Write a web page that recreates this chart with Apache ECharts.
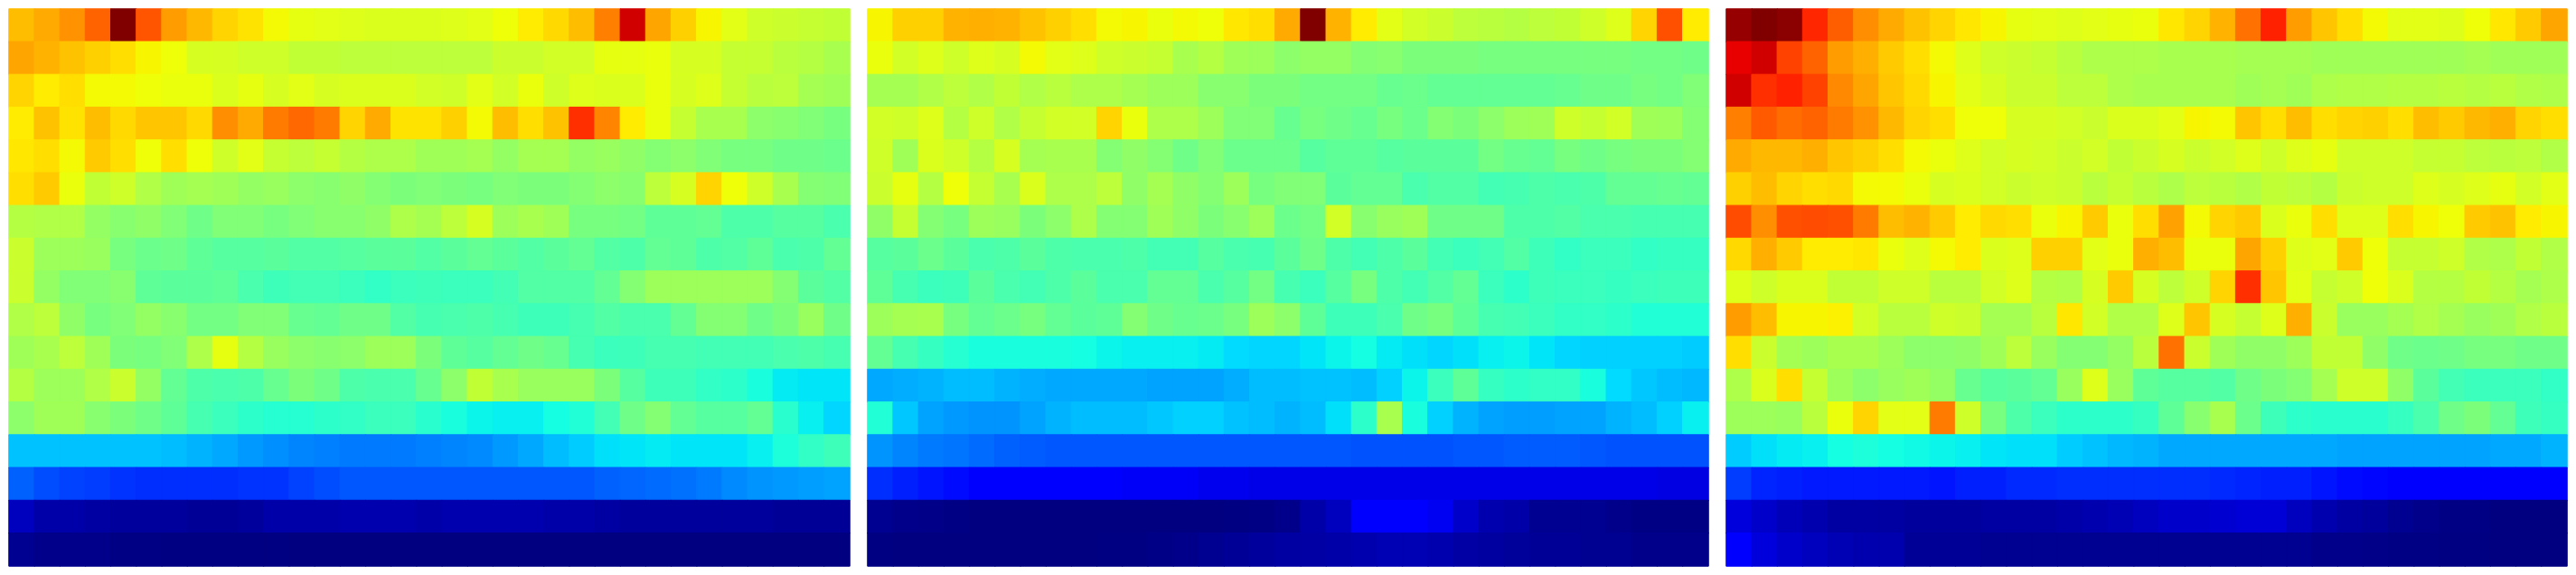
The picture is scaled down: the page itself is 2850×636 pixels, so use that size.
<!DOCTYPE html>
<html>
<head>
<meta charset="utf-8">
<style>html,body{margin:0;padding:0;background:#fff}#c{width:2850px;height:636px}</style>
<script src="https://cdn.jsdelivr.net/npm/echarts@6/dist/echarts.min.js"></script>
</head>
<body>
<div id="c"></div>
<script>
const columns = Array.from({length: 33}, (_, i) => i);
const rows = Array.from({length: 17}, (_, i) => i);

const panelLeft = [
[71,73,75.5,80.5,100,82,74.5,71.5,68.5,67,64.5,63,62.5,62,61.5,61.5,61.5,62,62.5,64,66,68,71,77.5,93,73.5,69,65,62.5,60,59.5,59,58.5],
[73.5,72,70.5,69,67.5,65,64,61,61,60,60,58.5,58.5,58,58,58,58,58,58,59.5,59.5,60.5,60.5,63,63,63.5,61,61,59,59,57.5,57,55.5],
[68.5,66,67.5,64.5,64.5,64,63.5,63.5,61.5,63,61,62.5,61,61.5,61.5,61.5,60.5,60,62.5,60.5,63.5,60,62,61.5,61.5,63.5,61,62,59,57.5,58,55,54.5],
[66,70.5,67,71,68,70,70,68,76,73,78,80,78,68.5,73,67,67,69,64.5,71,67.5,70.5,86,77,66,63.5,59,55.5,55.5,52,51.5,50.5,49.5],
[66.5,67.5,64.5,69.5,67.5,64,67.5,64,60,62.5,59,58,59,57,56,56,54.5,54.5,55,53,55,55,53,53.5,52.5,51,52,50.5,49.5,49.5,48.5,48.5,48],
[67.5,69.5,63.5,58.5,60,56.5,54.5,55,54.5,53,53.5,52,51.5,52.5,51,50,50.5,50,49.5,50.5,50,50,51,52,51.5,58,61,68.5,64,60,55.5,51,50.5],
[57,56.5,56.5,53,51.5,52.5,50.5,48.5,50.5,50.5,49.5,50.5,51.5,51.5,52.5,56,55,58,61,54,55.5,54.5,49.5,49.5,49,46.5,46.5,47,44.5,44.5,45.5,45.5,44],
[59.5,54,54,53.5,49.5,48,48.5,46.5,45.5,45.5,46,45,45,45.5,46,46,45,46,47,46,45,46,47,45,44.5,47,46.5,44.5,45,46.5,44,44.5,47],
[59.5,53,50.5,50.5,51.5,46.5,46,46,46.5,44,42.5,43,43,42,41,42,42.5,42,42,43,45,45,45,47,51,54,54,54,54,54,51,46,45],
[56.5,58,52.5,49.5,50.5,53,51.5,49,49,50.5,50.5,47.5,47,48.5,48.5,45,43.5,44,44.5,43.5,42.5,42.5,43.5,45,44,44,47,51,51,48.5,50,53.5,48.5],
[54.5,55.5,58,54.5,50,49.5,50.5,56,63,57,53.5,52,51.5,52,54,54,50,46.5,45.5,47,48.5,47.5,43.5,42,42.5,43.5,43.5,43,43,43,44,44.5,43.5],
[57,54,54,56.5,59.5,53,47,44.5,44,44.5,47.5,50,48.5,44.5,44,44,47.5,52,58.5,55.5,53.5,53.5,53.5,50,45.5,42.5,42.5,41,40.5,38,35.5,35,35],
[52,54.5,54.5,51.5,50,48.5,46.5,43.5,42,40.5,39.5,39.5,40.5,41,42,42,40,38,36.5,36,36,37.5,39,43,48.5,51,47,45.5,45.5,47,40,36,33.5],
[31.5,31.5,31.5,31.5,31.5,31.5,31,30,29,27.5,26.5,25.5,25,24.5,24.5,24.5,25,25.5,26,27.5,29,31,32.5,34.5,35,35.5,35,35,35,36,38.5,41,42.5],
[22,20,19,18.5,17.5,17,17,17,17,17.5,17.5,19,20,21,21,21,21,21,21,21,21,21,21,22,22.5,23,23.5,24.5,26,27,27.5,28,28.5],
[5.5,3.5,3.5,3,2.5,2.5,2.5,2,2,2.5,3.5,3.5,3.5,4,4,4,3.5,4,4,4,4,3.5,3.5,3,2.5,2.5,2.5,2.5,2.5,2.5,2,2,2],
[1.5,1,1,1,0.5,0.5,0.3,0.3,0.2,0.2,0.2,0.1,0.1,0.1,0.1,0.1,0.1,0.1,0.1,0.1,0,0,0,0,0,0,0,0,0,0,0,0,0]
];

const panelMiddle = [
[65,69,69,72,72.5,72,70.5,69,67.5,64.5,65,63.5,64.5,64,66.5,67.5,73,100,72,66,62.5,60.5,59.5,58,57.5,57,58,58.5,60,62,68.5,82.5,66],
[63.5,60.5,62,60,62,61,64.5,62.5,62,60,59.5,59,55.5,57,54.5,54,52,53,53,51,51.5,50,50,50,49.5,49.5,49.5,49.5,49.5,49.5,49,49,48.5],
[55,55,56.5,58,56.5,58.5,56.5,57.5,56,56,55,54,54,51.5,51.5,50,50,49,49,49,47.5,48,47,47,47,47,47,47.5,48.5,48.5,49.5,49,50.5],
[60.5,60,62,57,60,56.5,59,60.5,60.5,68.5,63.5,56,56,54,50.5,50.5,47.5,49.5,48.5,47.5,49.5,48,51,50,52,54,54.5,60,59,60.5,54.5,54,51],
[60,54.5,61.5,60,57,61,55,55.5,55.5,51,52.5,51,48.5,50.5,48,48,48,45.5,46.5,46.5,45.5,46,46,46,49,47.5,47,49.5,48.5,49.5,50,50,51],
[59.5,63,57,64,59,55.5,61.5,56,56,58,52.5,55,52.5,51,54,49.5,50.5,50.5,46,47,47,44,45,45,43,43.5,44.5,44,44.5,47,47,47.5,47],
[52.5,59,51,49.5,54,53.5,50,52,56,51,51,54.5,52.5,50,51.5,54,48,49,60.5,51.5,53.5,54.5,48.5,48.5,48.5,44.5,44.5,45,44,44,43.5,43.5,43.5],
[45.5,46,48,46,44,44.5,46,44.5,44,44,44.5,43,43,45.5,44,43.5,46,48.5,44.5,43,44.5,46,43,42,43,45,42.5,41,42,42,41,41.5,41.5],
[46.5,43.5,42,42.5,46,44,43,44.5,46,44,44,47,47,44,45.5,49,43.5,42,45.5,49.5,44.5,43,45,47,42,40.5,42.5,42,42,41.5,42,42.5,42.5],
[54,55,55.5,49.5,47,48,49.5,47,46,46.5,51,48.5,47.5,48,49.5,54,52,46.5,42.5,42.5,44,48.5,49.5,46.5,43.5,43,42,41,41,40.5,39,39,39],
[47,43.5,41.5,39.5,38,38,38,38,37.5,36.5,36,36,36,35.5,34,33.5,33.5,35,36.5,37.5,35.5,34.5,33.5,34.5,36,36.5,35,33.5,33,33,33,33,32.5],
[29,29.5,30,31,31,30,29.5,29,29,29,29,28.5,28.5,28.5,29.5,31,31,31.5,31.5,31,33,36.5,42,46.5,41.5,40.5,41,41,38,34,32,31,30.5],
[39,32,28.5,27.5,27,27,28.5,30,31,31,31,32,33,33,31.5,31,30,31,34.5,40.5,55.5,38,33,30,28.5,28,28,28.5,28.5,30,31,33,36],
[27,25.5,24.5,24,23,22,21.5,21,21,21,21,21,21,21,21,21,21,21,21,20.5,20.5,20.5,20.5,21,21,21.5,21.5,21.5,21,20.5,20.5,20.5,20.5],
[17,15.5,14.5,13.5,12.5,12,12,12,12,11,10.5,10.5,10.5,9.5,9.5,9,9,9,9,9,9,9,9,9,9,9,9,9,9,9,9,8.5,8.5],
[1.5,1,0.8,0.5,0,0,0,0,0,0,0,0,0,0,0.3,0.5,1,3.5,5.5,12,12,12,10,6.5,4,3.5,1.5,1.5,1.5,1,0.5,0.5,0.5],
[0.3,0,0,0,0,0,0,0,0,0.3,0.3,0.7,1,1.5,2,2.5,3,3.2,3.6,4,4.5,4.5,4,3.2,2.8,2.4,2,2,1.5,1.5,1,1,1]
];

const panelRight = [
[98,100,99,87,81,76,73,70.5,68.5,66.5,65,63,62.5,62,62.5,63,63.5,66.5,68.5,72,79,87.5,74.5,70,67.5,64.5,62.5,62.5,62,64,66.5,69.5,73.5],
[91,93,84,80.5,74.5,72.5,69.5,67.5,64.5,62,60,59.5,59,57.5,56,56,56,55.5,55.5,55.5,55,55,55,54.5,54.5,54.5,54.5,54.5,54.5,55,54.5,54.5,54.5],
[93,86,87.5,84,76.5,73.5,70,68,65,62.5,61,59.5,59.5,58,58,56,55.5,55.5,55.5,55.5,54.5,55,54.5,56,56.5,56.5,57,57,57.5,57,57.5,56.5,56],
[77.5,81.5,79.5,80.5,78,75.5,71.5,68.5,67.5,64,64,61,61,60.5,59.5,61.5,61.5,62.5,65,64.5,70,67.5,71,67.5,68.5,69,67.5,71,69.5,71.5,72.5,68.5,67.5],
[73,71.5,71.5,72.5,70,69,67.5,64.5,63.5,62,60.5,61,60.5,59.5,60.5,58.5,59.5,61,59.5,60.5,62,60,62,63,60,60,60,59,59,58,57.5,58,56.5],
[69,71,68.5,67.5,68,64.5,64.5,63.5,61,61.5,60.5,59.5,60,59.5,57.5,59,57.5,56,58,57.5,56.5,58.5,58,57,59.5,60,60,62,61,62,63,60.5,62.5],
[83,76,82.5,83,82.5,78,71,72,69.5,66,68,67.5,63.5,65,69.5,63.5,67.5,74,64.5,68.5,69.5,61.5,63.5,67.5,62,62,67.5,65,64,69.5,70.5,66,65],
[68,72.5,69.5,66,66,66.5,63.5,62,64.5,66,61.5,62,69,69,62.5,63.5,72.5,71,63.5,63.5,73.5,69,62,62.5,69.5,64,59,59,60,56.5,56,58.5,56.5],
[62,60,61.5,61.5,58.5,58.5,60,60,57.5,57.5,60.5,62,57,56.5,61,69.5,61,58,60,68.5,86,70,62.5,59,60,64,61.5,57,57,58.5,57,55,56],
[74.5,71,65,65,65.5,60.5,57.5,57.5,60,59.5,55,55,57.5,66.5,60.5,56.5,56.5,62,70,61,59,62,72.5,59.5,53.5,53.5,55,56.5,55,53.5,54.5,56.5,57.5],
[67.5,59.5,55,54,55.5,55.5,54,52,52,52.5,54.5,58,53.5,51,51,53,57.5,79,59.5,54.5,52.5,52.5,54,58.5,58.5,52.5,48.5,48,48.5,49.5,49.5,48.5,48.5],
[56,61.5,67.5,59,54,52,53.5,54.5,53,47.5,45.5,46,47,53.5,62,53.5,46.5,45.5,45.5,45,48.5,50,51,55,60,60,52.5,46,43,42,42,42,41],
[54,54,53.5,57.5,63.5,68.5,62.5,62.5,78,60,49.5,44.5,42,40.5,40.5,40.5,41.5,46.5,51.5,55.5,48,42.5,40.5,40,40,40,41.5,44,48.5,50,47,42.5,41.5],
[32.5,34.5,35.5,36,37.5,38.5,37.5,37,36.5,36,35,34.5,34.5,32.5,31.5,30.5,30,29,29,29,29,29,29,29,28.5,28.5,28.5,28.5,28.5,28.5,29,29,30],
[18.5,16,15.5,15,15,15,15,15,14.5,15.5,15.5,16.5,16.5,17,17,17,17,17,17,16.5,16,15.5,15.5,14.5,13.5,13,12.5,12,12,12,12,12,12],
[8,6.5,5,4,3,3,3,2.5,2.5,2.5,3,3,3,3.5,4,4.5,5.5,6.5,6.5,7,7.5,7.5,5.5,4,3,2.5,1.5,1,0.5,0.5,0,0,0],
[11.5,8,6.5,5.5,4.5,4,4,2,2,2,1.5,1.5,1.5,1.5,1.5,1.5,1.5,1.5,1.5,1.5,1.5,1.5,1.5,1,1,0.8,0.5,0.5,0.3,0.2,0,0,0]
];

const panels = [panelLeft, panelMiddle, panelRight];

// jet colour ramp as piecewise channels
function seg(pts, t) {
  for (let i = 1; i < pts.length; i++) {
    if (t <= pts[i][0]) {
      const a = pts[i - 1], b = pts[i];
      return a[1] + (b[1] - a[1]) * (t - a[0]) / (b[0] - a[0]);
    }
  }
  return pts[pts.length - 1][1];
}
const R = [[0,0],[0.35,0],[0.66,1],[0.89,1],[1,0.5]];
const G = [[0,0],[0.125,0],[0.375,1],[0.64,1],[0.91,0],[1,0]];
const B = [[0,0.5],[0.11,1],[0.34,1],[0.65,0],[1,0]];
function jetColor(t) {
  return 'rgb(' + [R, G, B].map(c => Math.round(seg(c, t) * 255)).join(',') + ')';
}
const jet = [];
for (let i = 0; i <= 200; i++) jet.push(jetColor(i / 200));

const lefts = [10, 960, 1910];
const grid = [], xAxis = [], yAxis = [], series = [];
panels.forEach((panel, p) => {
  grid.push({left: lefts[p], top: 10, width: 930, height: 616});
  xAxis.push({type: 'category', gridIndex: p, data: columns, show: false});
  yAxis.push({type: 'category', gridIndex: p, data: rows, inverse: true, show: false});
  const data = [];
  panel.forEach((row, y) => row.forEach((v, x) => data.push({
    value: [x, y, v],
    // a hairline in the cell's own colour closes the anti-aliased seams between cells
    itemStyle: {borderColor: jetColor(v / 100), borderWidth: 1}
  })));
  series.push({
    type: 'heatmap', xAxisIndex: p, yAxisIndex: p, data,
    progressive: 0, animation: false,
    emphasis: {disabled: true}
  });
});

const chart = echarts.init(document.getElementById('c'), null, {renderer: 'canvas'});
chart.setOption({
  animation: false,
  backgroundColor: '#ffffff',
  grid, xAxis, yAxis, series,
  visualMap: {
    type: 'continuous', show: false, min: 0, max: 100,
    seriesIndex: [0, 1, 2], dimension: 2,
    inRange: {color: jet}
  }
});
</script>
</body>
</html>
